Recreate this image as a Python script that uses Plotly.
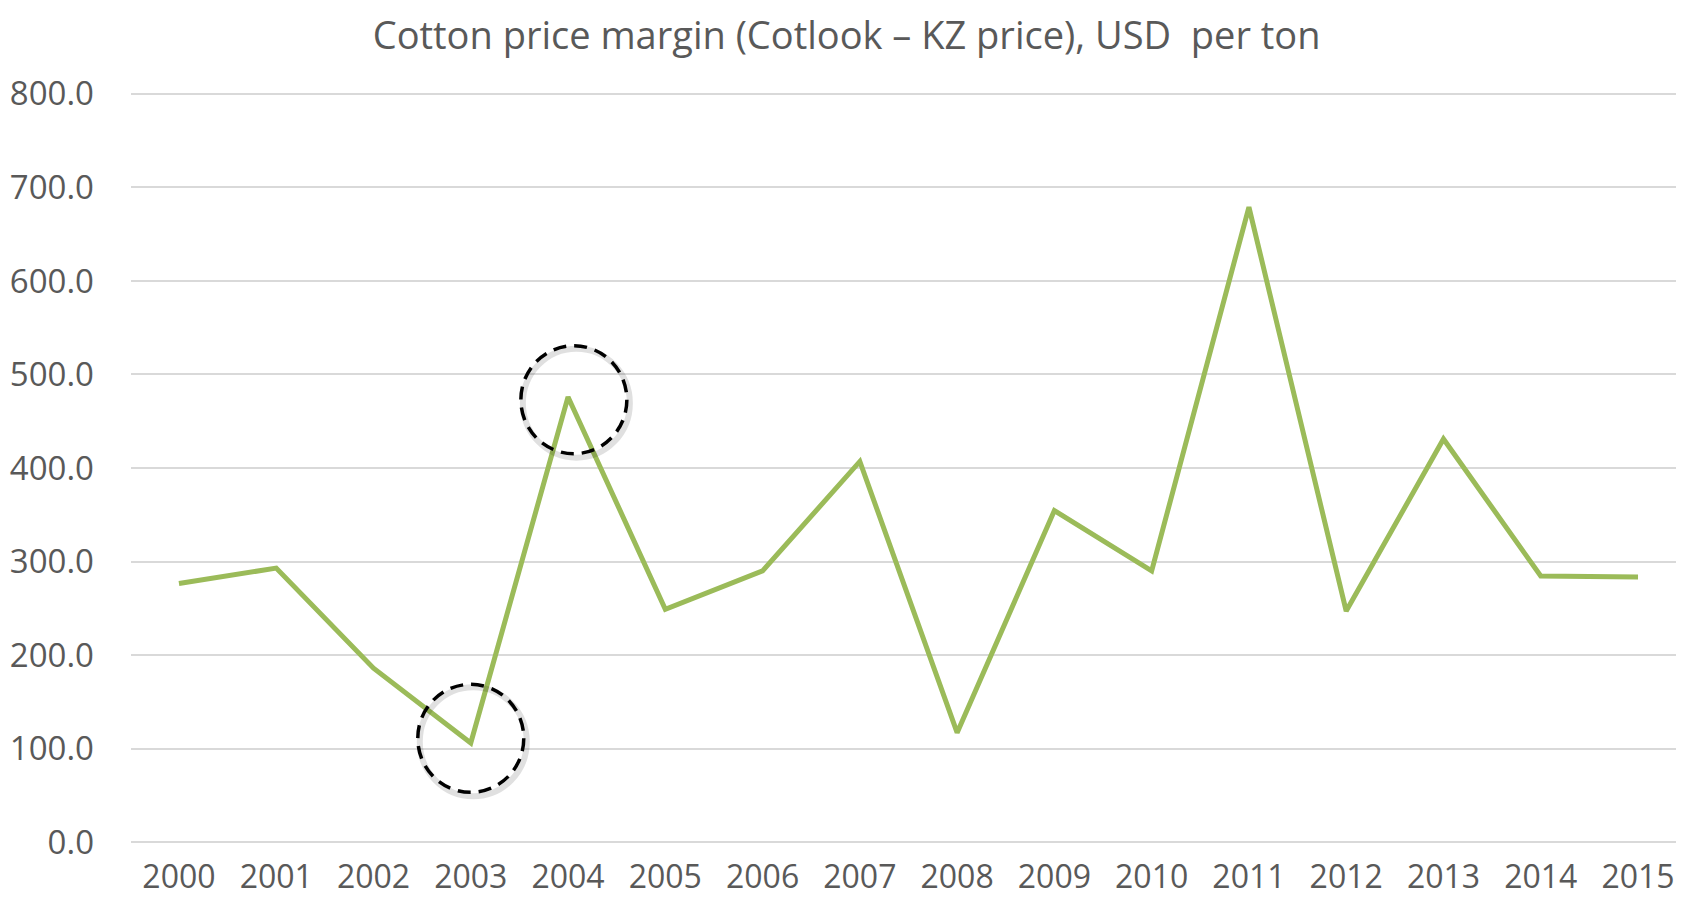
import plotly.graph_objects as go

years = [2000, 2001, 2002, 2003, 2004, 2005, 2006, 2007, 2008, 2009, 2010, 2011, 2012, 2013, 2014, 2015]
margin = [276.5, 293.0, 186.0, 106.0, 476.0, 249.0, 290.0, 407.0, 117.0, 354.5, 290.0, 679.0, 247.0, 431.0, 284.5, 283.5]
y_ticks = [0, 100, 200, 300, 400, 500, 600, 700, 800]
highlight_years = [2003, 2004]

title_text = "Cotton price margin (Cotlook – KZ price), USD  per ton"
FONT = "Open Sans, Liberation Sans, sans-serif"
GREY = "#595959"

fig = go.Figure()
fig.add_trace(go.Scatter(
    x=years, y=margin, mode="lines",
    line=dict(color="#9BBB59", width=5),
    hoverinfo="x+y", showlegend=False,
))

# dashed highlight circles around selected points
for yr in highlight_years:
    v = margin[years.index(yr)]
    off = 0.06 if yr == 2004 else 0.0
    dy = -3 if yr == 2004 else 5
    # soft shadow
    fig.add_shape(type="circle", xref="x", yref="y", xsizemode="pixel", ysizemode="pixel",
                  xanchor=yr + off, yanchor=v + dy,
                  x0=-51, x1=56, y0=-58, y1=51,
                  line=dict(color="rgba(0,0,0,0.12)", width=6), layer="above")
    fig.add_shape(type="circle", xref="x", yref="y", xsizemode="pixel", ysizemode="pixel",
                  xanchor=yr + off, yanchor=v + dy,
                  x0=-53, x1=53, y0=-54, y1=54,
                  line=dict(color="black", width=3.5, dash="13px,8px"), layer="above")

fig.update_layout(
    width=1684, height=902,
    margin=dict(l=123, r=0, t=84, b=66),
    paper_bgcolor="white", plot_bgcolor="white",
    title=dict(text=title_text, x=0.498, xanchor="center", y=0.969, yanchor="middle",
               font=dict(family=FONT, size=38, color=GREY), automargin=False),
    font=dict(family=FONT, color=GREY),
)
fig.update_xaxes(
    range=[1999.507, 2015.555], tickmode="array", tickvals=years, ticktext=[str(y) for y in years],
    showgrid=False, zeroline=False, showline=False, ticks="", automargin=False,
    tickfont=dict(family=FONT, size=32, color=GREY), ticklabelstandoff=11,
)
fig.update_yaxes(
    range=[-2, 802], tickmode="array", tickvals=y_ticks, ticktext=[f"{v:.1f}" for v in y_ticks],
    showgrid=True, gridcolor="#D9D9D9", gridwidth=2, zeroline=False, showline=False, ticks="",
    automargin=False,
    tickfont=dict(family=FONT, size=33, color=GREY), ticklabelstandoff=36,
)

fig.write_html("out.html")
